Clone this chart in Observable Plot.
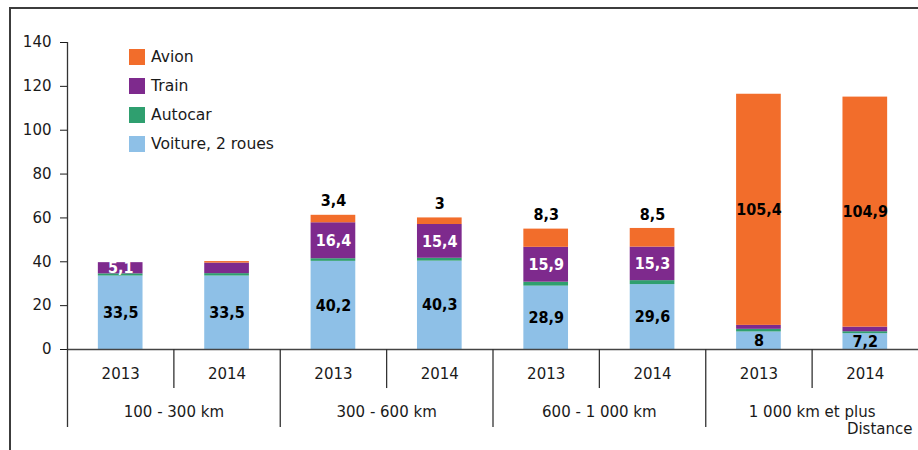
<!DOCTYPE html>
<html>
<head>
<meta charset="utf-8">
<script src="https://cdn.jsdelivr.net/npm/d3@7"></script>
<script src="https://cdn.jsdelivr.net/npm/@observablehq/plot@0.6"></script>
<style>
  body { margin: 0; background: #fff; }
  #wrap { position: relative; width: 918px; height: 450px; overflow: hidden; font-family: "DejaVu Sans", sans-serif; }
  #chart { position: absolute; left: 0; top: 0; }
  #frame { position: absolute; left: 9px; top: 7px; width: 920px; height: 460px;
           border-left: 2px solid #3c3c3c; border-top: 2px solid #3c3c3c; pointer-events: none; }
  #legend { position: absolute; left: 129px; top: 49px; font-size: 15.6px; color: #1a1a1a; }
  .item { display: flex; align-items: center; height: 16px; margin-bottom: 13px; }
  .sw { width: 16px; height: 16px; margin-right: 6px; }
</style>
</head>
<body>
<div id="wrap">
  <div id="chart"></div>
  <div id="legend"></div>
  <div id="frame"></div>
</div>
<script>
// ---- data ----
const distances = ["100 - 300 km", "300 - 600 km", "600 - 1 000 km", "1 000 km et plus"];
const years = ["2013", "2014"];
const modes = ["Voiture, 2 roues", "Autocar", "Train", "Avion"];
const colors = ["#8ec0e7", "#2f9f6f", "#7e2a8d", "#f26d2b"];
const voiture = [33.5, 33.5, 40.2, 40.3, 28.9, 29.6, 8, 7.2];
const autocar = [1.0, 1.1, 1.2, 1.3, 1.8, 1.8, 1.2, 0.9];
const train   = [5.1, 4.8, 16.4, 15.4, 15.9, 15.3, 1.8, 2.1];
const avion   = [0, 0.7, 3.4, 3, 8.3, 8.5, 105.4, 104.9];
const yTicks = [0, 20, 40, 60, 80, 100, 120, 140];
const axisTitle = "Distance";

// ---- table ----
const series = [voiture, autocar, train, avion];
const bars = [];
distances.forEach((dist, g) => years.forEach((yr, k) => bars.push({i: g * years.length + k, distance: dist, year: yr})));
const rows = [];
bars.forEach(b => modes.forEach((m, s) => rows.push({...b, mode: m, value: series[s][b.i]})));
const groups = distances.map((d, g) => ({g, distance: d}));
const yearSeps = bars.filter(b => b.i % years.length !== 0).map(b => b.i);
const groupSeps = groups.map(g => g.g * years.length);

// ---- style constants ----
const barInset = 0.29;
const yearSepDepth = -17.8;   // in y units below zero
const groupSepDepth = -35.6;
const fmt = v => String(v).replace(".", ",");
const labelFont = {fontFamily: "'DejaVu Sans Condensed', 'DejaVu Sans', sans-serif", fontSize: 16, fontWeight: "bold"};

// ---- legend ----
const legend = document.getElementById("legend");
[...modes].reverse().forEach(m => {
  const c = colors[modes.indexOf(m)];
  const el = document.createElement("div");
  el.className = "item";
  el.innerHTML = `<span class="sw" style="background:${c}"></span><span>${m}</span>`;
  legend.appendChild(el);
});

// ---- plot ----
const nBars = bars.length;
const stackOpts = {x: d => d.i + 0.5, y: "value", z: "mode", order: modes};
const plot = Plot.plot({
  width: 918,
  height: 450,
  marginLeft: 67,
  marginRight: 0,
  marginTop: 42,
  marginBottom: 101,
  style: {fontFamily: "'DejaVu Sans', sans-serif", fontSize: "15px", color: "#1a1a1a", background: "white", overflow: "visible"},
  x: {type: "linear", domain: [0, nBars], axis: null},
  y: {domain: [0, 140], ticks: yTicks, tickSize: 7, tickPadding: 9, label: null, tickFormat: d => String(d)},
  color: {domain: modes, range: colors},
  marks: [
    Plot.rectY(rows, Plot.stackY({
      x1: d => d.i + barInset, x2: d => d.i + 1 - barInset,
      y: "value", z: "mode", fill: "mode", order: modes
    })),
    // axis lines and category separators
    Plot.ruleY([0], {stroke: "#444", strokeWidth: 1.3}),
    Plot.ruleX([0], {y1: groupSepDepth, y2: 140, stroke: "#333", strokeWidth: 1.3}),
    Plot.ruleX(yearSeps, {y1: 0, y2: yearSepDepth, stroke: "#333", strokeWidth: 1.3}),
    Plot.ruleX(groupSeps.filter(v => v > 0), {y1: 0, y2: groupSepDepth, stroke: "#333", strokeWidth: 1.3}),
    // value labels
    Plot.text(rows, Plot.stackY({
      ...stackOpts,
      text: d => d.mode === modes[0] ? fmt(d.value) : null,
      fill: "#000", ...labelFont
    })),
    Plot.text(rows, Plot.stackY({
      ...stackOpts,
      text: d => d.mode === modes[2] && d.value > 5 ? fmt(d.value) : null,
      fill: "#fff", ...labelFont
    })),
    Plot.text(rows, Plot.stackY({
      ...stackOpts,
      text: d => d.mode === modes[3] && d.value > 50 ? fmt(d.value) : null,
      fill: "#000", ...labelFont
    })),
    Plot.text(rows, Plot.stackY2({
      ...stackOpts,
      text: d => d.mode === modes[3] && d.value >= 1 && d.value <= 50 ? fmt(d.value) : null,
      fill: "#000", dy: -14, ...labelFont
    })),
    // category labels below the axis
    Plot.text(bars, {x: d => d.i + 0.5, text: "year", frameAnchor: "bottom", dy: 29, fill: "#1a1a1a"}),
    Plot.text(groups, {x: d => (d.g + 0.5) * years.length, text: "distance", frameAnchor: "bottom", dy: 67, fill: "#1a1a1a"}),
    Plot.text([axisTitle], {text: d => d, frameAnchor: "bottom-right", dy: 84, dx: -6, textAnchor: "end", fill: "#1a1a1a"})
  ]
});
document.getElementById("chart").appendChild(plot);
</script>
</body>
</html>
